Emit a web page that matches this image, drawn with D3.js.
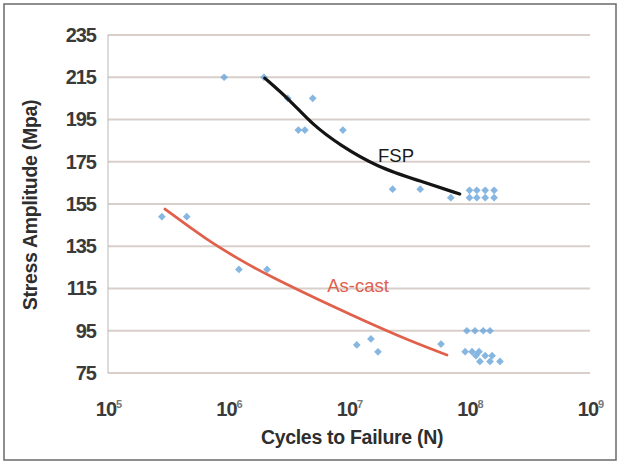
<!DOCTYPE html>
<html><head><meta charset="utf-8">
<script src="https://cdn.jsdelivr.net/npm/d3@7"></script>
<style>
html,body{margin:0;padding:0;background:#fff;}
svg text{font-family:"Liberation Sans",Arial,sans-serif;}
</style></head>
<body>
<svg id="chart" width="620" height="465"></svg>
<script>
// ---- data ----
const yTicks = [75, 95, 115, 135, 155, 175, 195, 215, 235];
const xTickExponents = [5, 6, 7, 8, 9];

// FSP test points [cycles, stress]
const fspN = [9.2e5, 1.97e6, 3.1e6, 5.0e6, 3.8e6, 4.3e6, 8.9e6, 2.3e7, 3.9e7, 7.0e7,
              1.0e8, 1.15e8, 1.35e8, 1.6e8, 1.0e8, 1.15e8, 1.35e8, 1.6e8];
const fspS = [215, 215, 205, 205, 190, 190, 190, 162, 162, 158,
              161.5, 161.5, 161.5, 161.5, 158, 158, 158, 158];

// As-cast test points
const castN = [2.8e5, 4.5e5, 1.22e6, 2.09e6, 1.16e7, 1.52e7, 1.74e7, 5.8e7,
               9.5e7, 1.11e8, 1.3e8, 1.48e8,
               9.2e7, 1.05e8, 1.2e8,
               1.13e8, 1.35e8, 1.54e8,
               1.22e8, 1.48e8, 1.79e8];
const castS = [149, 149, 124, 124, 88.3, 91.1, 85, 88.7,
               95, 95, 95, 95,
               85.1, 85.1, 85.1,
               83.2, 83.2, 83.2,
               80.5, 80.5, 80.5];

// fitted trend curves
const fspCurveN = [2.0e6, 3.24e6, 5.0e6, 8.4e6, 1.71e7, 3.88e7, 8.3e7];
const fspCurveS = [214.6, 204.2, 192.4, 182.9, 172.5, 165.9, 159.7];
const castCurveN = [2.97e5, 6.6e5, 1.25e6, 2.09e6, 7.4e6, 2.65e7, 6.5e7];
const castCurveS = [152.6, 138.0, 128.5, 121.4, 106.3, 92.0, 83.5];

const xTitle = "Cycles to Failure (N)";
const yTitle = "Stress Amplitude (Mpa)";

// ---- drawing ----
const svg = d3.select("#chart");
const L = 108, R = 590, T = 35, B = 373;

svg.append("rect").attr("x", 4).attr("y", 4).attr("width", 612).attr("height", 456)
  .attr("fill", "#fff").attr("stroke", "#6a6a6a").attr("stroke-width", 1.5);

const x = d3.scaleLog().domain([1e5, 1e9]).range([L, R]);
const y = d3.scaleLinear().domain([75, 235]).range([B, T]);

// gridlines
svg.append("g").selectAll("line").data(yTicks).join("line")
  .attr("x1", L).attr("x2", R)
  .attr("y1", d => y(d)).attr("y2", d => y(d))
  .attr("stroke", "#d8cfcb").attr("stroke-width", 2);

// left axis line
svg.append("line").attr("x1", L).attr("x2", L).attr("y1", T).attr("y2", B)
  .attr("stroke", "#b8b8b8").attr("stroke-width", 1);

// y axis
const yAxis = d3.axisLeft(y).tickValues(yTicks).tickSize(0).tickPadding(12);
const gy = svg.append("g").attr("transform", `translate(${L},0)`).call(yAxis);
gy.select(".domain").remove();
gy.selectAll("text").attr("font-size", 20).attr("font-weight", "bold")
  .attr("fill", "#3a3a3a").attr("letter-spacing", -1)
  .style("font-family", '"Liberation Sans", Arial, sans-serif');

// x axis with superscript labels
const xAxis = d3.axisBottom(x).tickValues(xTickExponents.map(e => Math.pow(10, e)))
  .tickSize(0).tickPadding(0).tickFormat("");
const gx = svg.append("g").attr("transform", `translate(0,${B})`).call(xAxis);
gx.select(".domain").remove();
gx.selectAll(".tick").each(function(d, i) {
  const t = d3.select(this).append("text")
    .attr("y", 43).attr("text-anchor", "middle").attr("fill", "#3a3a3a")
    .attr("font-size", 20).attr("font-weight", "bold").attr("letter-spacing", -1)
    .style("font-family", '"Liberation Sans", Arial, sans-serif');
  t.append("tspan").text("10");
  t.append("tspan").attr("dy", -8).attr("font-size", 11).attr("fill", "#777")
    .text(String(xTickExponents[i]));
});

// axis titles
svg.append("text").attr("x", 352).attr("y", 444).attr("text-anchor", "middle")
  .attr("font-size", 19.5).attr("font-weight", "bold").attr("fill", "#2e2e2e")
  .attr("letter-spacing", -0.3).text(xTitle);
svg.append("text").attr("transform", "translate(37,205) rotate(-90)")
  .attr("text-anchor", "middle").attr("font-size", 19.5).attr("font-weight", "bold")
  .attr("fill", "#2e2e2e").attr("letter-spacing", -0.3).text(yTitle);

// points
const marker = d3.symbol().type(d3.symbolSquare).size(30);
function pts(N, S) { return N.map((n, i) => [n, S[i]]); }
svg.append("g").selectAll("path").data(pts(fspN, fspS).concat(pts(castN, castS))).join("path")
  .attr("d", marker)
  .attr("transform", d => `translate(${x(d[0])},${y(d[1])}) rotate(45)`)
  .attr("fill", "#72a9dc").attr("opacity", 0.85);

// curves
const line = d3.line().x(d => x(d[0])).y(d => y(d[1])).curve(d3.curveBasis);
svg.append("path").datum(pts(fspCurveN, fspCurveS)).attr("d", line)
  .attr("fill", "none").attr("stroke", "#141414").attr("stroke-width", 3.2)
  .attr("stroke-linecap", "round");
svg.append("path").datum(pts(castCurveN, castCurveS)).attr("d", line)
  .attr("fill", "none").attr("stroke", "#e0604c").attr("stroke-width", 2.8)
  .attr("stroke-linecap", "round");

// series labels
svg.append("text").attr("x", 396).attr("y", 162).attr("text-anchor", "middle")
  .attr("font-size", 18.5).attr("fill", "#1a1a1a").text("FSP");
svg.append("text").attr("x", 358).attr("y", 292).attr("text-anchor", "middle")
  .attr("font-size", 18.5).attr("fill", "#e0604c").text("As-cast");
</script>
</body></html>
